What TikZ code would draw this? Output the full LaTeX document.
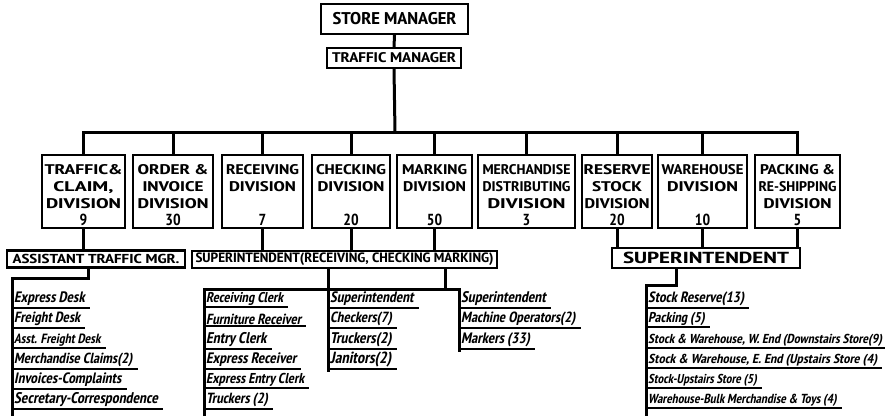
\documentclass[tikz,border=0pt]{standalone}
\usepackage{graphicx}
\usepackage{fontspec}
\IfFontExistsTF{PT Sans Narrow}{%
  \IfFontExistsTF{PT Sans Narrow Bold}{%
    \setmainfont{PT Sans Narrow}[BoldFont={PT Sans Narrow Bold}, BoldItalicFont={PT Sans Narrow Bold}, BoldItalicFeatures={FakeSlant=0.2}]}{%
    \setmainfont{PT Sans Narrow}}}{%
  \IfFontExistsTF{DejaVu Sans Condensed}{\setmainfont{DejaVu Sans Condensed}}{\setmainfont{Liberation Sans}}}
\newlength\fwl
\newcommand\fw[2]{\settowidth\fwl{#2}\pgfmathsetmacro\fwf{#1/\fwl}\scalebox{\fwf}[1]{#2}}
\newcommand\fh[2]{\settowidth\fwl{#2}\pgfmathsetmacro\fwf{sqrt(#1/\fwl)}\scalebox{\fwf}{#2}}
\newcommand\fst{\rule{0pt}{17pt}}
\newcommand\num[1]{{\fontsize{16}{17}\selectfont #1}}
\begin{document}
\begin{tikzpicture}[x=1pt,y=-1pt,
  box/.style={draw, line width=2.2pt, inner sep=0pt, align=center, font=\bfseries},
  div/.style={box, minimum height=73pt, font=\fontsize{14}{17}\selectfont\bfseries},
  conn/.style={line width=3pt},
  ul/.style={line width=2pt},
  li/.style={inner xsep=2pt, inner ysep=1.5pt, anchor=west, font=\fontsize{13}{15}\selectfont\bfseries\itshape}]
\useasboundingbox (0,0) rectangle (885,417);
% top
\node[box, minimum width=147pt, minimum height=30pt, font=\fontsize{17}{19}\selectfont\bfseries] (sm) at (394.5,19) {\fw{124}{STORE MANAGER}};
\node[box, minimum width=134pt, minimum height=20pt, font=\fontsize{14}{16}\selectfont\bfseries] (tm) at (394,58) {\fw{124}{TRAFFIC MANAGER}};
% divisions
\node[div, minimum width=83pt] (d1) at (83.5,191.5) {\fst\fw{78}{TRAFFIC\&}\\\fw{60}{CLAIM,}\\\fw{75}{DIVISION}\\\num{9}};
\node[div, minimum width=80pt] (d2) at (173,191.5) {\fst\fw{71}{ORDER \&}\\\fw{61}{INVOICE}\\\fw{71}{DIVISION}\\\num{30}};
\node[div, minimum width=81pt] (d3) at (262.5,191.5) {\fst\fw{73}{RECEIVING}\\\fw{67}{DIVISION}\\\mbox{}\\\num{7}};
\node[div, minimum width=78pt] (d4) at (351,191.5) {\fst\fw{70}{CHECKING}\\\fw{67}{DIVISION}\\\mbox{}\\\num{20}};
\node[div, minimum width=75pt] (d5) at (434.5,191.5) {\fst\fw{65}{MARKING}\\\fw{63}{DIVISION}\\\mbox{}\\\num{50}};
\node[div, minimum width=97pt] (d6) at (526.5,191.5) {\fst\fw{88}{MERCHANDISE}\\\fw{88}{DISTRIBUTING}\\\fw{78}{DIVISION}\\\num{3}};
\node[div, minimum width=70pt] (d7) at (617,191.5) {\fst\fw{67}{RESERVE}\\\fw{50}{STOCK}\\\fw{65}{DIVISION}\\\num{20}};
\node[div, minimum width=89pt] (d8) at (702.5,191.5) {\fst\fw{82}{WAREHOUSE}\\\fw{71}{DIVISION}\\\mbox{}\\\num{10}};
\node[div, minimum width=85pt] (d9) at (797.5,191.5) {\fst\fw{75}{PACKING \&}\\\fw{78}{RE-SHIPPING}\\\fw{68}{DIVISION}\\\num{5}};
% connectors top
\coordinate (bus) at (395,132);
\draw[conn] (sm.south) -- (tm.north);
\draw[conn] (tm.south) -- (bus);
\draw[conn] (d1.north) -- (d1.north |- bus) -- (d9.north |- bus) -- (d9.north);
\foreach \d in {d2,d3,d4,d5,d6,d7,d8} \draw[conn] (\d.north |- bus) -- (\d.north);
% lower boxes
\node[box, minimum width=178pt, minimum height=17pt, font=\fontsize{13}{15}\selectfont\bfseries] (atm) at (96,259) {\fw{167}{ASSISTANT TRAFFIC MGR.}};
\node[box, minimum width=305pt, minimum height=17pt, font=\fontsize{13.5}{15}\selectfont\bfseries] (srcm) at (344.5,259.5) {\fw{298}{SUPERINTENDENT(RECEIVING, CHECKING MARKING)}};
\node[box, minimum width=188pt, minimum height=20pt, font=\fontsize{16}{18}\selectfont\bfseries] (sup) at (706,258) {\fw{166}{SUPERINTENDENT}};
\draw[conn] (d1.south) -- (d1.south |- atm.north);
\foreach \d in {d3,d4,d5} \draw[conn] (\d.south) -- (\d.south |- srcm.north);
\foreach \d in {d7,d8,d9} \draw[conn] (\d.south) -- (\d.south |- sup.north);
% left list
\coordinate (lt) at (12,278);
\coordinate (lb) at (12,416);
\draw[conn] ([xshift=-8pt]atm.south) |- (lt) -- (lb);
\node[li] (a1) at (12,299) {\fh{82}{Express Desk}};
\node[li] (a2) at (12,319) {\fh{75}{Freight Desk}};
\node[li] (a3) at (12,340) {\fh{89}{Asst. Freight Desk}};
\node[li] (a4) at (12,360) {\fh{133}{Merchandise Claims(2)}};
\node[li] (a5) at (12,380) {\fh{124}{Invoices-Complaints}};
\node[li] (a6) at (12,400) {\fh{171}{Secretary-Correspondence}};
\foreach \n in {a1,a2,a3,a4,a5,a6} \draw[ul] (\n.south west) -- ([xshift=3pt]\n.south east);
% middle lists
\coordinate (mh1) at (204,289);
\coordinate (mh2) at (328,289);
\coordinate (mh3) at (445,289);
\coordinate (mh4) at (459,289);
\draw[conn] (mh1 |- 0,416) -- (mh1) -- (mh4) -- (mh4 |- 0,352);
\draw[conn] (mh2 |- srcm.south) -- (mh2 |- 0,372);
\draw[conn] (mh3 |- srcm.south) -- (mh3);
\node[li] (b1) at (204,299) {\fh{84}{Receiving Clerk}};
\node[li] (b2) at (204,319) {\fh{107}{Furniture Receiver}};
\node[li] (b3) at (204,340) {\fh{72}{Entry Clerk}};
\node[li] (b4) at (204,360) {\fh{105}{Express Receiver}};
\node[li] (b5) at (204,380) {\fh{108}{Express Entry Clerk}};
\node[li] (b6) at (204,400) {\fh{70}{Truckers (2)}};
\foreach \n in {b1,b2,b3,b4,b5,b6} \draw[ul] (\n.south west) -- ([xshift=3pt]\n.south east);
\node[li] (c1) at (328,299) {\fh{97}{Superintendent}};
\node[li] (c2) at (328,319) {\fh{70}{Checkers(7)}};
\node[li] (c3) at (328,340) {\fh{73}{Truckers(2)}};
\node[li] (c4) at (328,360) {\fh{76}{Janitors(2)}};
\foreach \n in {c1,c2,c3,c4} \draw[ul] (\n.south west) -- ([xshift=3pt]\n.south east);
\node[li] (e1) at (459,299) {\fh{100}{Superintendent}};
\node[li] (e2) at (459,319) {\fh{130}{Machine Operators(2)}};
\node[li] (e3) at (459,340) {\fh{80}{Markers (33)}};
\foreach \n in {e1,e2,e3} \draw[ul] (\n.south west) -- ([xshift=3pt]\n.south east);
% right list
\coordinate (rt) at (646,285);
\coordinate (rb) at (646,416);
\draw[conn] ([xshift=-30pt]sup.south) |- (rt) -- (rb);
\node[li] (f1) at (646,299) {\fh{110}{Stock Reserve(13)}};
\node[li] (f2) at (646,319) {\fh{62}{Packing (5)}};
\node[li] (f3) at (646,340) {\fw{234}{Stock \& Warehouse, W. End (Downstairs Store(9)}};
\node[li] (f4) at (646,360) {\fw{229}{Stock \& Warehouse, E. End (Upstairs Store (4)}};
\node[li] (f5) at (646,380) {\fh{108}{Stock-Upstairs Store (5)}};
\node[li] (f6) at (646,400) {\fh{190}{Warehouse-Bulk Merchandise \& Toys (4)}};
\foreach \n in {f1,f2,f3,f4,f5,f6} \draw[ul] (\n.south west) -- ([xshift=3pt]\n.south east);
\end{tikzpicture}
\end{document}
